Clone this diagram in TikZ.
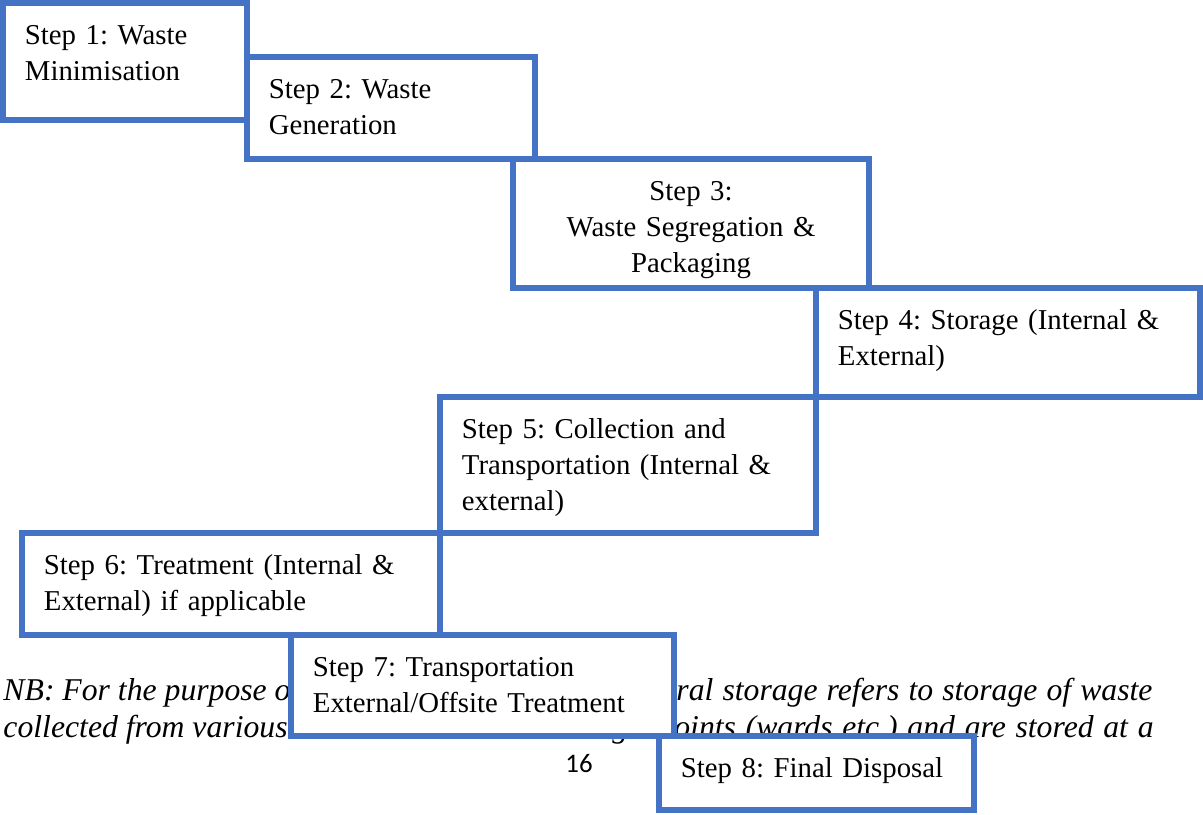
\documentclass[tikz,border=0pt]{standalone}
\usepackage{fontspec}
\setmainfont{Liberation Serif}
\newfontfamily\pagefont{Carlito}
\usepackage{tikz}
\frenchspacing
\definecolor{boxblue}{HTML}{4472C4}
\tikzstyle{stepbox} = [
    rectangle,
    anchor=north west,
    draw=boxblue, line width=2.4pt, fill=white,
    inner xsep=9pt, inner ysep=0pt, outer sep=0pt,
    text height=17.2pt,
    align=left,
    font=\fontsize{11.8}{14.6}\selectfont]
\tikzstyle{nbtext} = [
    inner sep=0pt, anchor=base west,
    font=\fontsize{13}{16}\selectfont\itshape]

\begin{document}
\begin{tikzpicture}[x=0.41pt, y=-0.41pt]
        \useasboundingbox (0,0) rectangle (1203,814);

        % note text behind the boxes
        \node (nb_left_a) [nbtext] at (3,700) {NB: For the purpose of};
        \node (nb_right_a) [nbtext, anchor=base east] at (1153,700) {\makebox[195.2pt][s]{ral storage refers to storage of waste}};
        \node (nb_left_b) [nbtext] at (3,737) {collected from various};
        \node (nb_mid_b) [nbtext] at (612,737) {g};
        \node (nb_right_b) [nbtext] at (658,737) {\makebox[203pt][s]{points (wards etc.) and are stored at a}};
        \node (page_no) [font=\pagefont\fontsize{11}{13}\selectfont] at (579,764) {16};

        % steps
        \node (step_min) [stepbox, text width=82pt, text depth=30.8pt] at (3,3) {Step 1: Waste\\Minimisation};
        \node (step_gen) [stepbox, text width=100.1pt, text depth=24.6pt] at (247,57) {Step 2: Waste\\Generation};
        \node (step_seg) [stepbox, align=center, text width=128pt, text depth=35.7pt] at (513,159) {Step 3:\\Waste Segregation \&\\Packaging};
        \node (step_store) [stepbox, text width=139.4pt, text depth=27.5pt] at (816,288) {Step 4: Storage (Internal \&\\External)};
        \node (step_collect) [stepbox, text width=136.2pt, text depth=38.6pt] at (440,397) {Step 5: Collection and\\Transportation (Internal \&\\external)};
        \node (step_treat) [stepbox, text width=153.4pt, text depth=24.6pt] at (22,533) {Step 6: Treatment (Internal \&\\External) if applicable};
        \node (step_transport) [stepbox, text width=139pt, text depth=24.2pt] at (291,635) {Step 7: Transportation\\External/Offsite Treatment};
        \node (step_disposal) [stepbox, text width=111.2pt, text depth=13.1pt] at (659,736) {Step 8: Final Disposal};
    \end{tikzpicture}
\end{document}
